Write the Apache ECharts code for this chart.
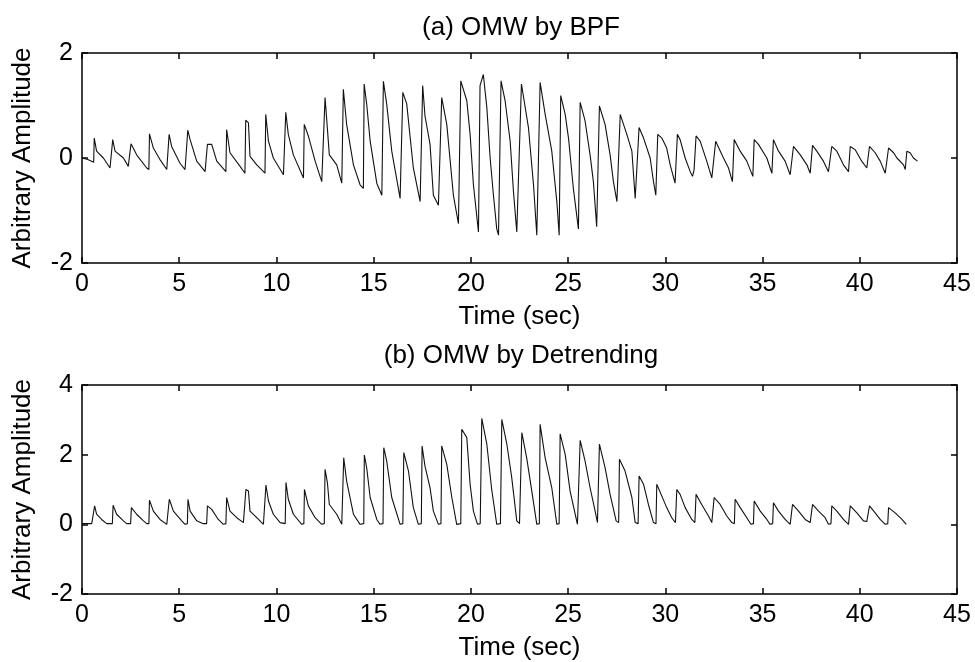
<!DOCTYPE html>
<html>
<head>
<meta charset="utf-8">
<script src="https://cdn.jsdelivr.net/npm/echarts@6/dist/echarts.min.js"></script>
<style>html,body{margin:0;padding:0;background:#fff;}#c{width:975px;height:662px;}</style>
</head>
<body>
<div id="c"></div>
<script>
// Panel (a): OMW by BPF
const timeA = [0.00,0.30,0.60,0.63,0.75,1.10,1.44,1.58,1.70,2.13,2.38,2.52,2.81,3.33,3.44,3.47,3.67,4.01,4.36,4.48,4.61,5.04,5.30,5.44,5.56,5.90,6.33,6.45,6.67,6.93,7.40,7.44,7.61,8.13,8.38,8.42,8.56,8.64,8.99,9.41,9.45,9.59,9.84,10.36,10.48,10.61,10.87,11.39,11.43,11.64,11.99,12.33,12.50,12.59,12.72,13.10,13.36,13.44,13.61,13.96,14.30,14.47,14.51,14.64,14.82,15.16,15.42,15.50,15.67,15.93,16.36,16.50,16.70,17.04,17.39,17.52,17.64,17.90,18.07,18.33,18.50,18.76,19.10,19.36,19.48,19.79,19.96,20.13,20.39,20.47,20.64,20.82,20.99,21.16,21.33,21.42,21.55,21.76,22.02,22.19,22.36,22.60,22.96,23.22,23.39,23.56,23.82,24.16,24.42,24.54,24.62,24.85,25.02,25.27,25.53,25.62,25.87,26.13,26.30,26.47,26.61,26.90,27.16,27.33,27.51,27.68,28.02,28.28,28.45,28.65,28.88,29.22,29.39,29.51,29.61,29.82,30.07,30.25,30.50,30.62,30.76,31.02,31.28,31.40,31.48,31.58,31.79,32.13,32.39,32.59,32.99,33.25,33.45,33.54,33.85,34.19,34.50,34.57,34.79,35.22,35.48,35.56,35.82,36.16,36.42,36.59,36.94,37.28,37.45,37.57,37.79,38.13,38.39,38.56,38.82,39.16,39.42,39.51,39.76,40.10,40.36,40.50,40.79,41.05,41.31,41.48,41.74,41.91,42.25,42.34,42.42,42.59,42.76,42.97];
const ampA = [0.00,-0.03,-0.08,0.38,0.13,0.00,-0.19,0.35,0.13,0.00,-0.16,0.27,0.06,-0.19,-0.22,0.46,0.19,-0.03,-0.22,0.45,0.22,-0.10,-0.22,0.53,0.35,-0.06,-0.26,0.26,0.26,-0.06,-0.26,0.54,0.10,-0.16,-0.29,0.72,0.67,0.03,-0.13,-0.29,0.83,0.32,0.00,-0.32,0.87,0.45,0.06,-0.38,0.64,0.42,-0.06,-0.45,1.15,0.71,0.06,-0.13,-0.48,1.31,0.64,-0.13,-0.51,-0.58,1.41,1.03,0.32,-0.48,-0.71,1.46,1.03,0.13,-0.77,1.25,1.03,-0.19,-0.83,1.38,0.80,0.26,-0.71,-0.90,1.15,0.64,-0.71,-1.25,1.47,1.09,0.45,-0.51,-1.41,1.38,1.59,0.96,0.00,-0.71,-1.35,-1.47,1.47,1.09,0.32,-0.64,-1.41,1.41,0.58,-0.51,-1.47,1.44,0.83,0.13,-0.83,-1.47,1.19,0.83,0.38,-0.58,-1.35,1.06,0.71,0.06,-0.45,-1.31,0.99,0.64,0.06,-0.45,-0.83,0.83,0.45,0.13,-0.77,0.58,0.38,0.00,-0.45,-0.71,0.45,0.38,0.19,-0.13,-0.48,0.45,0.35,0.00,-0.26,-0.35,-0.22,0.42,0.32,-0.06,-0.38,0.32,0.00,-0.19,-0.45,0.35,0.13,-0.06,-0.35,0.35,0.26,0.00,-0.29,0.35,0.13,-0.06,-0.32,0.22,0.06,-0.13,-0.29,0.24,0.13,-0.06,-0.26,0.22,0.13,-0.13,-0.26,0.22,0.16,-0.06,-0.19,0.22,0.10,-0.06,-0.29,0.19,0.10,0.00,-0.13,-0.22,0.13,0.10,0.00,-0.06];

// Panel (b): OMW by Detrending
const timeB = [0.00,0.50,0.58,0.65,0.75,1.01,1.27,1.56,1.60,1.78,2.13,2.30,2.50,2.54,2.81,3.16,3.33,3.44,3.47,3.67,4.01,4.36,4.46,4.49,4.70,5.13,5.30,5.42,5.45,5.56,5.90,6.24,6.41,6.45,6.67,7.01,7.27,7.40,7.44,7.61,7.96,8.30,8.40,8.43,8.56,8.64,8.99,9.33,9.43,9.46,9.59,9.84,10.19,10.45,10.49,10.61,10.87,11.30,11.41,11.44,11.64,11.99,12.33,12.46,12.50,12.62,12.72,13.10,13.36,13.42,13.46,13.61,13.96,14.30,14.49,14.52,14.64,14.82,15.16,15.33,15.48,15.52,15.67,15.93,16.36,16.50,16.55,16.79,17.04,17.30,17.45,17.49,17.64,17.90,18.07,18.33,18.46,18.50,18.76,19.02,19.27,19.48,19.53,19.79,19.96,20.13,20.34,20.48,20.56,20.82,21.07,21.33,21.52,21.59,21.85,22.10,22.36,22.50,22.62,22.87,23.13,23.39,23.52,23.56,23.82,24.16,24.42,24.54,24.59,24.85,25.10,25.48,25.58,25.62,25.87,26.13,26.39,26.51,26.61,26.90,27.16,27.47,27.60,27.64,27.93,28.28,28.45,28.60,28.65,28.88,29.13,29.39,29.52,29.56,29.82,30.07,30.33,30.52,30.59,30.76,31.02,31.36,31.52,31.58,31.87,32.22,32.39,32.47,32.51,32.82,33.16,33.42,33.55,33.59,33.85,34.19,34.40,34.53,34.57,34.88,35.22,35.39,35.52,35.56,35.82,36.16,36.42,36.50,36.54,36.85,37.19,37.45,37.53,37.57,37.88,38.22,38.39,38.52,38.56,38.82,39.16,39.42,39.47,39.51,39.85,40.19,40.36,40.46,40.50,40.79,41.05,41.31,41.44,41.48,41.82,42.17,42.39];
const ampB = [0.02,0.02,0.05,0.53,0.29,0.14,0.02,0.02,0.55,0.29,0.10,0.02,0.02,0.48,0.29,0.10,0.02,0.02,0.69,0.38,0.14,0.00,0.02,0.72,0.38,0.10,0.00,0.02,0.72,0.38,0.10,0.02,0.02,0.53,0.43,0.14,0.00,0.02,0.77,0.38,0.19,0.05,0.02,1.00,0.96,0.38,0.19,0.00,0.02,1.13,0.67,0.29,0.05,0.02,1.20,0.72,0.29,0.00,0.02,1.00,0.53,0.19,0.00,0.02,1.58,1.20,0.57,0.29,0.00,0.02,1.91,1.24,0.29,0.00,0.02,1.99,1.63,0.77,0.14,0.00,0.02,2.20,1.82,0.77,0.00,0.02,2.06,1.53,0.48,0.00,0.02,2.25,1.67,1.05,0.38,0.00,0.02,2.25,1.72,0.77,0.00,0.02,2.73,2.49,1.15,0.38,0.00,0.02,3.04,2.30,1.00,0.00,0.02,3.01,2.30,1.34,0.10,0.02,2.63,1.91,0.96,0.00,0.02,2.87,1.91,1.05,0.00,0.02,2.60,2.01,0.96,0.00,0.02,2.41,1.82,1.05,0.38,0.05,2.30,1.63,0.86,0.10,0.05,1.87,1.53,0.77,0.05,0.02,1.39,1.15,0.57,0.05,0.02,1.15,0.81,0.48,0.19,0.05,1.00,0.86,0.48,0.14,0.05,0.86,0.57,0.24,0.05,0.02,0.77,0.57,0.24,0.05,0.02,0.72,0.48,0.19,0.00,0.02,0.67,0.38,0.14,0.00,0.02,0.62,0.38,0.14,0.00,0.02,0.57,0.38,0.14,0.05,0.02,0.57,0.38,0.19,0.00,0.02,0.53,0.38,0.14,0.00,0.02,0.53,0.33,0.10,0.08,0.05,0.53,0.33,0.14,0.00,0.02,0.48,0.33,0.14,0.00];

const xTicks = [0,5,10,15,20,25,30,35,40,45];
const yTicksA = [-2,0,2];
const yTicksB = [-2,0,2,4];
const titles = ['(a) OMW by BPF','(b) OMW by Detrending'];
const xName = 'Time (sec)';
const yName = 'Arbitrary Amplitude';

const FONT = "'Liberation Sans', Arial, Helvetica, sans-serif";
const zipPts = (t, v) => t.map((x, i) => [x, v[i]]);

function xAx(gi, pos, labels) {
  return {
    type: 'value', gridIndex: gi, position: pos,
    min: xTicks[0], max: xTicks[xTicks.length - 1], interval: 5,
    axisLine: {show: true, onZero: false, lineStyle: {color: '#000', width: 1.5}},
    axisTick: {show: true, inside: true, length: 6, lineStyle: {color: '#000', width: 1.5}},
    axisLabel: {show: labels, color: '#000', fontSize: 25, fontFamily: FONT, margin: 9},
    splitLine: {show: false},
    name: labels ? xName : '', nameLocation: 'middle', nameGap: 41,
    nameTextStyle: {color: '#000', fontSize: 26, fontFamily: FONT}
  };
}
function yAx(gi, pos, labels, ticks) {
  return {
    type: 'value', gridIndex: gi, position: pos,
    min: ticks[0], max: ticks[ticks.length - 1], interval: 2,
    axisLine: {show: true, onZero: false, lineStyle: {color: '#000', width: 1.5}},
    axisTick: {show: true, inside: true, length: 6, lineStyle: {color: '#000', width: 1.5}},
    axisLabel: {show: labels, color: '#000', fontSize: 25, fontFamily: FONT, margin: 9},
    splitLine: {show: false},
    name: labels ? yName : '', nameLocation: 'middle', nameGap: 46,
    nameTextStyle: {color: '#000', fontSize: 26, fontFamily: FONT}
  };
}

const chart = echarts.init(document.getElementById('c'), null, {renderer: 'canvas'});
chart.setOption({
  animation: false,
  backgroundColor: '#fff',
  title: [
    {text: titles[0], left: 516, top: 10, textAlign: 'center', textStyle: {fontSize: 26, fontWeight: 'normal', color: '#000', fontFamily: FONT}},
    {text: titles[1], left: 516, top: 338, textAlign: 'center', textStyle: {fontSize: 26, fontWeight: 'normal', color: '#000', fontFamily: FONT}}
  ],
  grid: [
    {left: 82, top: 53, width: 875, height: 210},
    {left: 82, top: 385, width: 875, height: 209}
  ],
  xAxis: [xAx(0, 'bottom', true), xAx(0, 'top', false), xAx(1, 'bottom', true), xAx(1, 'top', false)],
  yAxis: [yAx(0, 'left', true, yTicksA), yAx(0, 'right', false, yTicksA), yAx(1, 'left', true, yTicksB), yAx(1, 'right', false, yTicksB)],
  series: [
    {type: 'line', xAxisIndex: 0, yAxisIndex: 0, data: zipPts(timeA, ampA), showSymbol: false, lineStyle: {color: '#111', width: 1.1}},
    {type: 'line', xAxisIndex: 2, yAxisIndex: 2, data: zipPts(timeB, ampB), showSymbol: false, lineStyle: {color: '#111', width: 1.1}}
  ]
});
</script>
</body>
</html>
